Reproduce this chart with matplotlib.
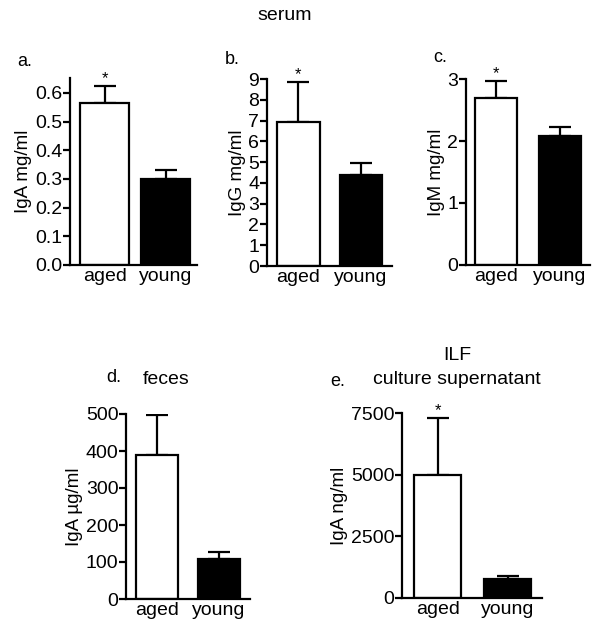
import matplotlib.pyplot as plt

plt.rcParams['font.family'] = ['Liberation Sans', 'DejaVu Sans']

groups = ['aged', 'young']

# serum
iga_serum = [0.565, 0.30]
iga_serum_err = [0.06, 0.03]
igg_serum = [6.95, 4.4]
igg_serum_err = [1.9, 0.55]
igm_serum = [2.7, 2.08]
igm_serum_err = [0.27, 0.14]
# feces
iga_feces = [388, 108]
iga_feces_err = [110, 19]
# ILF culture supernatant
iga_ilf = [4980, 780]
iga_ilf_err = [2320, 120]

panels = [
    # values, errors, ylabel, yticks, ticklabels, ylim, star, rect, xlim, barwidth
    (iga_serum, iga_serum_err, 'IgA mg/ml',
     [0, 0.1, 0.2, 0.3, 0.4, 0.5, 0.6], ['0.0', '0.1', '0.2', '0.3', '0.4', '0.5', '0.6'],
     0.652, True, (70, 197, 265, 78), (-0.57, 1.51), 0.8),
    (igg_serum, igg_serum_err, 'IgG mg/ml',
     list(range(10)), [str(i) for i in range(10)],
     9, True, (267, 392, 266, 79), (-0.5, 1.5), 0.68),
    (igm_serum, igm_serum_err, 'IgM mg/ml',
     [0, 1, 2, 3], ['0', '1', '2', '3'],
     3, True, (466, 590, 265, 79), (-0.48, 1.48), 0.66),
    (iga_feces, iga_feces_err, 'IgA µg/ml',
     [0, 100, 200, 300, 400, 500], ['0', '100', '200', '300', '400', '500'],
     500, False, (126, 250, 599, 414), (-0.5, 1.5), 0.68),
    (iga_ilf, iga_ilf_err, 'IgA ng/ml',
     [0, 2500, 5000, 7500], ['0', '2500', '5000', '7500'],
     7500, True, (402, 542, 598, 413), (-0.51, 1.49), 0.67),
]

W, H = 600, 637
fig = plt.figure(figsize=(W / 100, H / 100), dpi=100)

for vals, errs, ylab, ticks, tlabels, ytop, star, rect, xl, bw in panels:
    x0, x1, yb, yt = rect
    ax = fig.add_axes([x0 / W, 1 - yb / H, (x1 - x0) / W, (yb - yt) / H])
    ax.bar([0, 1], vals, width=bw, color=['white', 'black'], edgecolor='black',
           linewidth=1.6, zorder=2)
    ax.errorbar([0, 1], vals, yerr=[[0, 0], errs], fmt='none', ecolor='black',
                elinewidth=1.6, capsize=8, capthick=1.6, zorder=1)
    if star:
        ax.text(0, vals[0] + errs[0], '*', ha='center', va='bottom', fontsize=12)
    ax.set_xlim(*xl)
    ax.set_ylim(0, ytop)
    ax.set_yticks(ticks)
    ax.set_yticklabels(tlabels)
    ax.set_xticks([0, 1])
    ax.set_xticklabels(groups)
    ax.tick_params(axis='x', length=0, labelsize=14, pad=2)
    ax.tick_params(axis='y', length=5, width=1.6, labelsize=14, pad=0.5)
    for s in ['top', 'right']:
        ax.spines[s].set_visible(False)
    for s in ['left', 'bottom']:
        ax.spines[s].set_linewidth(1.6)
    ax.set_ylabel(ylab, fontsize=13.5, labelpad=2)
    ax.patch.set_alpha(0)

fig.text(285 / W, 1 - 15 / H, 'serum', ha='center', va='center', fontsize=14)
fig.text(166 / W, 1 - 380 / H, 'feces', ha='center', va='center', fontsize=14)
fig.text(457 / W, 1 - 355 / H, 'ILF', ha='center', va='center', fontsize=14)
fig.text(457 / W, 1 - 380 / H, 'culture supernatant', ha='center', va='center', fontsize=14)

fig.text(17 / W, 1 - 62 / H, 'a.', ha='left', va='center', fontsize=13)
fig.text(225 / W, 1 - 60 / H, 'b.', ha='left', va='center', fontsize=13)
fig.text(433 / W, 1 - 57 / H, 'c.', ha='left', va='center', fontsize=13)
fig.text(106 / W, 1 - 378 / H, 'd.', ha='left', va='center', fontsize=13)
fig.text(330 / W, 1 - 381 / H, 'e.', ha='left', va='center', fontsize=13)

fig.savefig('out.png', dpi=100)
